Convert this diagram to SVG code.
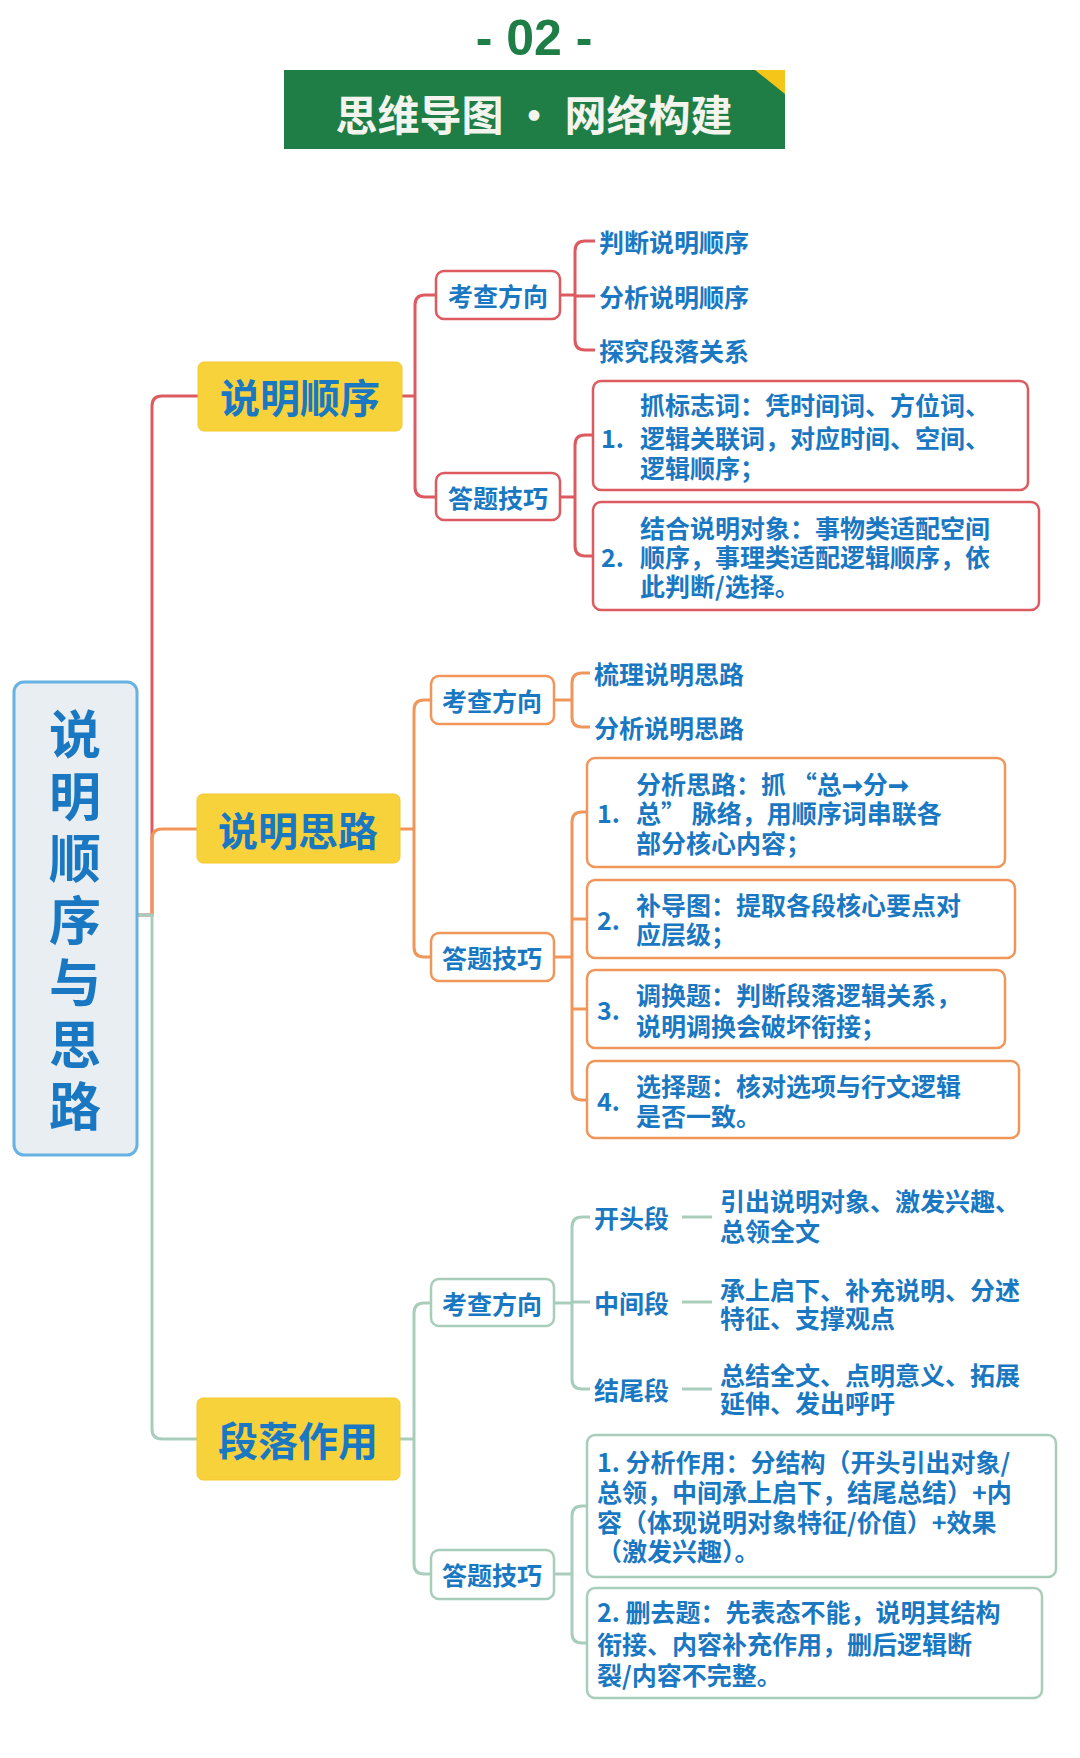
<svg xmlns="http://www.w3.org/2000/svg" width="1080" height="1758" viewBox="0 0 1080 1758">
<style>
text{font-family:"Noto Sans CJK SC","Noto Sans",sans-serif;font-weight:700;fill:#1a78c2;dominant-baseline:central}
.l1 rect{fill:#f8d23a;stroke:#f3c92c}
.l1 text{font-size:40px;text-anchor:middle}
.l2 rect{fill:#fff;stroke-width:2.5}
.l2 text{font-size:25px;text-anchor:middle}
.t{font-size:25px}
.bx{fill:#fff;stroke-width:2.5}
.red{stroke:#dc5a60}.org{stroke:#f0965a}.grn{stroke:#a9cdbb}
.c path{fill:none;stroke-width:3}
</style>
<rect width="1080" height="1758" fill="#fff"/>
<g id="header">
<text x="534" y="38" style="font-size:50px;fill:#1e7e45;text-anchor:middle;font-family:'Liberation Sans',sans-serif">- 02 -</text>
<rect x="284" y="70" width="501" height="79" fill="#1e7e45"/>
<polygon points="755,70 785,70 785,94" fill="#f5c518"/>
<text x="534" y="112" style="font-size:42px;fill:#f4f4ee;text-anchor:middle">思维导图 · 网络构建</text>
</g>
<g class="c" id="connectors">
<path class="red" d="M137,915 H152 V406 Q152,396 162,396 H198"/>
<path class="org" d="M152,915 V839 Q152,829 162,829 H197"/>
<path class="grn" d="M137,915 H152 V1429 Q152,1439 162,1439 H197"/>
<path class="red" d="M402,396 H415 M436,295 H425 Q415,295 415,305 V487 Q415,497 425,497 H436"/>
<path class="red" d="M560,295 H575 M595,241 H585 Q575,241 575,251 V340 Q575,350 585,350 H595 M575,296 H595"/>
<path class="red" d="M560,497 H575 M593,435 H585 Q575,435 575,445 V546 Q575,556 585,556 H593"/>
<path class="org" d="M400,829 H414 M431,700 H424 Q414,700 414,710 V947 Q414,957 424,957 H431"/>
<path class="org" d="M554,700 H572 M590,673 H582 Q572,673 572,683 V717 Q572,727 582,727 H590"/>
<path class="org" d="M554,957 H572 M587,812 H582 Q572,812 572,822 V1090 Q572,1100 582,1100 H587 M572,919 H587 M572,1009 H587"/>
<path class="grn" d="M400,1439 H414 M431,1303 H424 Q414,1303 414,1313 V1564 Q414,1574 424,1574 H431"/>
<path class="grn" d="M554,1303 H572 M590,1217 H582 Q572,1217 572,1227 V1379 Q572,1389 582,1389 H590 M572,1302 H590"/>
<path class="grn" d="M682,1217 H712 M682,1302 H712 M682,1389 H712"/>
<path class="grn" d="M554,1574 H572 M587,1506 H582 Q572,1506 572,1516 V1633 Q572,1643 582,1643 H587"/>
</g>
<g id="root">
<rect x="14" y="682" width="123" height="473" rx="10" fill="#e9eef2" stroke="#66b2e2" stroke-width="3"/>
<g style="font-size:52px" text-anchor="middle">
<text x="75" y="731">说</text><text x="75" y="793">明</text><text x="75" y="855">顺</text><text x="75" y="917">序</text><text x="75" y="979">与</text><text x="75" y="1041">思</text><text x="75" y="1103">路</text>
</g>
</g>
<g id="n1" class="l1"><rect x="198" y="362" width="204" height="69" rx="6"/><text x="300" y="396">说明顺序</text></g>
<g id="n2" class="l1"><rect x="197" y="794" width="203" height="69" rx="6"/><text x="298" y="829">说明思路</text></g>
<g id="n3" class="l1"><rect x="197" y="1398" width="203" height="82" rx="6"/><text x="298" y="1439">段落作用</text></g>

<g id="n1a" class="l2"><rect class="red" x="436" y="271" width="124" height="48" rx="8"/><text x="498" y="295">考查方向</text></g>
<g id="n1b" class="l2"><rect class="red" x="436" y="473" width="124" height="47" rx="8"/><text x="498" y="497">答题技巧</text></g>
<g id="n1a-items" class="t"><text class="t" x="599" y="241">判断说明顺序</text><text class="t" x="599" y="296">分析说明顺序</text><text class="t" x="599" y="350">探究段落关系</text></g>
<g id="n1b1"><rect class="bx red" x="593" y="381" width="435" height="109" rx="8"/>
<text class="t" x="601" y="437">1.</text><text class="t" x="640" y="404">抓标志词：凭时间词、方位词、</text><text class="t" x="640" y="437">逻辑关联词，对应时间、空间、</text><text class="t" x="640" y="467">逻辑顺序；</text></g>
<g id="n1b2"><rect class="bx red" x="593" y="502" width="446" height="108" rx="8"/>
<text class="t" x="601" y="556">2.</text><text class="t" x="640" y="527">结合说明对象：事物类适配空间</text><text class="t" x="640" y="556">顺序，事理类适配逻辑顺序，依</text><text class="t" x="640" y="585">此判断/选择。</text></g>

<g id="n2a" class="l2"><rect class="org" x="431" y="676" width="123" height="48" rx="8"/><text x="492" y="700">考查方向</text></g>
<g id="n2b" class="l2"><rect class="org" x="431" y="933" width="123" height="48" rx="8"/><text x="492" y="957">答题技巧</text></g>
<g id="n2a-items"><text class="t" x="594" y="673">梳理说明思路</text><text class="t" x="594" y="727">分析说明思路</text></g>
<g id="n2b1"><rect class="bx org" x="587" y="758" width="418" height="109" rx="8"/>
<text class="t" x="597" y="812">1.</text><text class="t" x="636" y="783">分析思路：抓 “总➞分➞</text><text class="t" x="636" y="812">总” 脉络，用顺序词串联各</text><text class="t" x="636" y="842">部分核心内容；</text></g>
<g id="n2b2"><rect class="bx org" x="587" y="880" width="428" height="78" rx="8"/>
<text class="t" x="597" y="919">2.</text><text class="t" x="636" y="904">补导图：提取各段核心要点对</text><text class="t" x="636" y="933">应层级；</text></g>
<g id="n2b3"><rect class="bx org" x="587" y="970" width="418" height="78" rx="8"/>
<text class="t" x="597" y="1009">3.</text><text class="t" x="636" y="994">调换题：判断段落逻辑关系，</text><text class="t" x="636" y="1025">说明调换会破坏衔接；</text></g>
<g id="n2b4"><rect class="bx org" x="587" y="1061" width="432" height="77" rx="8"/>
<text class="t" x="597" y="1100">4.</text><text class="t" x="636" y="1085">选择题：核对选项与行文逻辑</text><text class="t" x="636" y="1115">是否一致。</text></g>

<g id="n3a" class="l2"><rect class="grn" x="431" y="1279" width="123" height="47" rx="8"/><text x="492" y="1303">考查方向</text></g>
<g id="n3b" class="l2"><rect class="grn" x="431" y="1550" width="123" height="49" rx="8"/><text x="492" y="1574">答题技巧</text></g>
<g id="n3a1"><text class="t" x="594" y="1217">开头段</text><text class="t" x="720" y="1200">引出说明对象、激发兴趣、</text><text class="t" x="720" y="1230">总领全文</text></g>
<g id="n3a2"><text class="t" x="594" y="1302">中间段</text><text class="t" x="720" y="1289">承上启下、补充说明、分述</text><text class="t" x="720" y="1317">特征、支撑观点</text></g>
<g id="n3a3"><text class="t" x="594" y="1389">结尾段</text><text class="t" x="720" y="1374">总结全文、点明意义、拓展</text><text class="t" x="720" y="1402">延伸、发出呼吁</text></g>
<g id="n3b1"><rect class="bx grn" x="587" y="1435" width="469" height="142" rx="8"/>
<text class="t" x="597" y="1461">1. 分析作用：分结构（开头引出对象/</text><text class="t" x="597" y="1491">总领，中间承上启下，结尾总结）+内</text><text class="t" x="597" y="1521">容（体现说明对象特征/价值）+效果</text><text class="t" x="597" y="1550">（激发兴趣）。</text></g>
<g id="n3b2"><rect class="bx grn" x="587" y="1588" width="455" height="110" rx="8"/>
<text class="t" x="597" y="1611">2. 删去题：先表态不能，说明其结构</text><text class="t" x="597" y="1643">衔接、内容补充作用，删后逻辑断</text><text class="t" x="597" y="1674">裂/内容不完整。</text></g>
</svg>
